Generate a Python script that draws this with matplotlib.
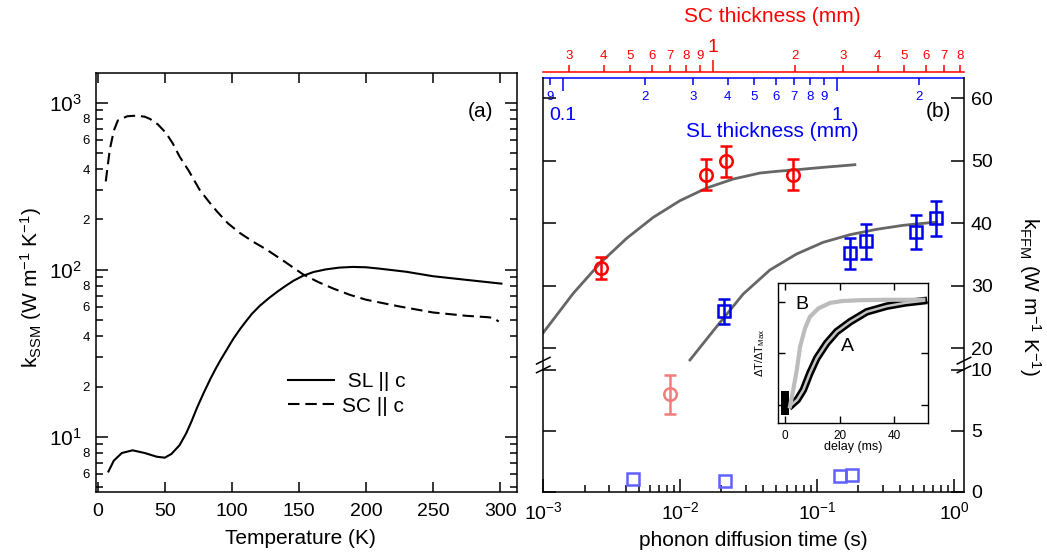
import matplotlib
matplotlib.use('Agg')
import matplotlib.pyplot as plt
from matplotlib.ticker import FixedLocator, FuncFormatter, NullFormatter, MultipleLocator, LogLocator
import numpy as np

plt.rcParams['font.family'] = ['Liberation Sans', 'DejaVu Sans']
plt.rcParams['mathtext.fontset'] = 'custom'
plt.rcParams['mathtext.rm'] = 'Liberation Sans'
plt.rcParams['mathtext.it'] = 'Liberation Sans:italic'
plt.rcParams['mathtext.bf'] = 'Liberation Sans:bold'
plt.rcParams['mathtext.default'] = 'regular'
plt.rcParams['axes.linewidth'] = 1.1

# ---------------- panel (a): k_SSM vs temperature ----------------
temp_sl = [8, 12, 18, 26, 35, 44, 50, 55, 61, 66, 70, 74, 79, 84, 88, 92, 96, 101, 106,
           110, 115, 121, 128, 134, 140, 146, 153, 161, 170, 180, 190, 200, 210, 230, 250,
           275, 301]
k_sl = [6.2, 7.2, 8.0, 8.3, 8.0, 7.6, 7.5, 7.9, 8.9, 10.5, 12.4, 14.9, 18.3, 22.2, 25.6,
        29.2, 33.0, 38.5, 44.0, 48.5, 54.5, 61.0, 68.0, 74.0, 80.0, 86.0, 92.0, 97.0, 100.5,
        103.0, 104.0, 103.5, 101.6, 97.3, 91.5, 87.0, 82.6]
temp_sc = [6, 9, 12, 15, 22, 29, 35, 39, 45, 51, 56, 61, 68, 76, 83, 89, 97, 106, 116,
           126, 140, 153, 165, 176, 188, 200, 225, 250, 275, 291, 295, 299]
k_sc = [338, 524, 680, 783, 830, 837, 825, 800, 740, 658, 570, 477, 390, 301, 255, 223,
        190, 166, 147, 132, 111, 94, 84, 77, 70.8, 66.2, 60.3, 55.5, 53, 52, 51.5, 49]

# ---------------- panel (b): k_FFM vs phonon diffusion time ----------------
t_sc = [0.00264, 0.0154, 0.0216, 0.0661]
k_sc_ffm = [32.9, 47.8, 49.9, 47.8]
err_sc = [1.75, 2.45, 2.5, 2.45]
t_sc_low = [0.00841]
k_sc_low = [7.98]
err_sc_low = [1.6]

t_sl = [0.0209, 0.173, 0.2266, 0.525, 0.735]
k_sl_ffm = [25.9, 35.2, 37.1, 38.6, 40.8]
err_sl = [1.95, 2.5, 2.75, 2.75, 2.75]
t_sl_low = [0.00454, 0.0211, 0.148, 0.181]
k_sl_low = [1.02, 0.88, 1.29, 1.37]

fit_sc_t = [0.001, 0.001656, 0.002593, 0.004062, 0.006354, 0.00995, 0.01558, 0.02438,
            0.03818, 0.05052, 0.0668, 0.1106, 0.1884]
fit_sc_k = [22.5, 28.8, 33.6, 37.6, 40.96, 43.62, 45.65, 47.09, 48.05, 48.32, 48.53, 48.96,
            49.38]
fit_sl_t = [0.01178, 0.01843, 0.02884, 0.04515, 0.07073, 0.1106, 0.1733, 0.2714, 0.4243,
            0.6646, 0.743]
fit_sl_k = [18.13, 23.46, 28.69, 32.53, 35.09, 36.96, 38.18, 39.04, 39.68, 40.1, 40.16]

# inset: normalised temperature rise vs delay
delay_b = [1.8, 3.0, 4.3, 5.5, 7.3, 9.1, 12.2, 16.5, 21, 27.4, 38, 50.6]
dT_b = [-0.016, 0.145, 0.339, 0.564, 0.742, 0.855, 0.936, 0.99, 1.008, 1.016, 1.02, 1.02]
delay_a = [2.4, 4.5, 6.7, 9.1, 11.6, 15.2, 18.9, 23.8, 29.9, 37.2, 44, 50.6]
dT_a = [0.0, 0.05, 0.145, 0.307, 0.452, 0.597, 0.71, 0.806, 0.903, 0.958, 0.99, 1.01]
block_t = [-1.6, 1.6]
block_lo = [-0.1, -0.1]
block_hi = [0.13, 0.13]

# thickness <-> diffusion time (t = a * d^2)
A_SL = 0.1386
A_SC = 0.01724

# broken y axis of panel (b)
LOW_PX, HIGH_PX = 12.2, 6.25
BRK_LO, BRK_HI, GAP = 10.39, 17.33, 0.05
YMAX = 63.3


def fwd(k):
    k = np.asarray(k, float)
    p0 = BRK_LO * LOW_PX
    lo = k * LOW_PX
    mid = p0 + (k - BRK_LO) * GAP / (BRK_HI - BRK_LO)
    hi = p0 + GAP + (k - BRK_HI) * HIGH_PX
    return np.where(k <= BRK_LO, lo, np.where(k >= BRK_HI, hi, mid))


def inv(p):
    p = np.asarray(p, float)
    p0 = BRK_LO * LOW_PX
    lo = p / LOW_PX
    mid = BRK_LO + (p - p0) * (BRK_HI - BRK_LO) / GAP
    hi = BRK_HI + (p - p0 - GAP) / HIGH_PX
    return np.where(p <= p0, lo, np.where(p >= p0 + GAP, hi, mid))


fig = plt.figure(figsize=(10.47, 5.53), dpi=100)

# ============================================================
# (a)
# ============================================================
ax1 = fig.add_axes([0.0914, 0.1108, 0.4021, 0.7566])
ax1.plot(temp_sl, k_sl, color='black', lw=1.5, label=' SL || c')
ax1.plot(temp_sc, k_sc, color='black', lw=1.5, ls=(0, (5.5, 2.8)), label='SC || c')
ax1.set_yscale('log')
ax1.set_xlim(-1.5, 312.4)
ax1.set_ylim(4.69, 1500)
ax1.xaxis.set_major_locator(MultipleLocator(50))
ax1.yaxis.set_major_locator(LogLocator(base=10))
minors = [m * 10.0 ** e for e in range(0, 4) for m in range(2, 10)]
ax1.yaxis.set_minor_locator(FixedLocator(minors))


def minor_fmt(v, pos):
    m = int(round(v / 10 ** np.floor(np.log10(v) + 1e-9)))
    return str(m) if m in (2, 4, 6, 8) else ''


ax1.yaxis.set_minor_formatter(FuncFormatter(minor_fmt))
ax1.tick_params(axis='both', which='both', direction='in', top=True, right=True, width=1.1)
ax1.tick_params(axis='x', which='major', length=7, labelsize=14, pad=8)
ax1.tick_params(axis='y', which='major', length=8.5, labelsize=15, pad=10)
ax1.tick_params(axis='y', which='minor', length=5, labelsize=9.5, pad=4)
ax1.text(0.913, 0.908, '(a)', transform=ax1.transAxes, ha='center', va='center', fontsize=15)
ax1.legend(frameon=False, fontsize=15, loc='center left', bbox_to_anchor=(0.457, 0.2335),
           borderpad=0, borderaxespad=0, handlelength=2.2, handletextpad=0.4, labelspacing=0.25)
fig.text(300.7 / 1047, 1 - 538 / 553, 'Temperature (K)', ha='center', va='center', fontsize=15)
fig.text(31 / 1047, 1 - 288 / 553, r'k$_{SSM}$ (W m$^{-1}$ K$^{-1}$)', rotation=90,
         ha='center', va='center', fontsize=15)

# ============================================================
# (b)
# ============================================================
ax2 = fig.add_axes([0.5189, 0.1108, 0.4018, 0.7486])
ax2.set_xscale('log')
ax2.set_yscale('function', functions=(fwd, inv))
ax2.set_xlim(1e-3, 1.18)
ax2.set_ylim(0, YMAX)

ax2.plot(fit_sc_t, fit_sc_k, color='#666666', lw=2)
ax2.plot(fit_sl_t, fit_sl_k, color='#666666', lw=2)
eb = dict(fmt='o', ms=9, mfc='none', mew=1.8, elinewidth=1.8, capsize=4.5, capthick=1.8)
ax2.errorbar(t_sc, k_sc_ffm, yerr=err_sc, mec='red', ecolor='red', **eb)
ax2.errorbar(t_sc_low, k_sc_low, yerr=err_sc_low, mec='#f27c7c', ecolor='#f27c7c', **eb)
eb['fmt'] = 's'
eb['ms'] = 8.5
ax2.errorbar(t_sl, k_sl_ffm, yerr=err_sl, mec='#0000ee', ecolor='#0000ee', **eb)
ax2.plot(t_sl_low, k_sl_low, 's', ms=8.5, mfc='none', mec='#6060ff', mew=1.8)

ax2.set_yticks([0, 5, 10, 20, 30, 40, 50, 60])
ax2.tick_params(axis='y', which='both', direction='in', left=True, right=True,
                labelleft=False, labelright=True, length=9.5, width=1.1, labelsize=14, pad=5)
ax2.tick_params(axis='x', which='both', direction='in', top=False, width=1.1)
ax2.tick_params(axis='x', which='major', length=9.5, labelsize=14, pad=7)
ax2.tick_params(axis='x', which='minor', length=5)
ax2.xaxis.set_minor_formatter(NullFormatter())
ax2.spines['top'].set_visible(False)

# break marks on both spines
y_br = float(fwd(BRK_LO)) / float(fwd(YMAX))
for x0 in (0, 1):
    for dy in (-0.0105, 0.0105):
        ax2.plot([x0 - 0.016, x0 + 0.016], [y_br + dy - 0.008, y_br + dy + 0.008],
                 transform=ax2.transAxes, color='black', lw=1.1, clip_on=False)


# thickness axes
def t_to_sl(t):
    return np.sqrt(np.clip(np.asarray(t, float), 1e-12, None) / A_SL)


def sl_to_t(d):
    return A_SL * np.asarray(d, float) ** 2


def t_to_sc(t):
    return np.sqrt(np.clip(np.asarray(t, float), 1e-12, None) / A_SC)


def sc_to_t(d):
    return A_SC * np.asarray(d, float) ** 2


sl = ax2.secondary_xaxis(1.0, functions=(t_to_sl, sl_to_t))
sl.set_alignment('bottom')
sl.set_ticks([0.1, 1], labels=['0.1', '1'])
sl_minor = [0.09, 0.2, 0.3, 0.4, 0.5, 0.6, 0.7, 0.8, 0.9, 2]
sl.set_ticks(sl_minor, labels=['9', '2', '3', '4', '5', '6', '7', '8', '9', '2'], minor=True)
sl.spines['bottom'].set_color('blue')
sl.spines['bottom'].set_linewidth(1.1)
sl.tick_params(which='both', direction='out', color='blue', labelcolor='blue', width=1.1)
sl.tick_params(which='major', length=9.5, labelsize=14, pad=11.5)
sl.tick_params(which='minor', length=5, labelsize=9.5, pad=4.5)

sc = ax2.secondary_xaxis(1.0138, functions=(t_to_sc, sc_to_t))
sc.set_ticks([1], labels=['1'])
sc_minor = [0.3, 0.4, 0.5, 0.6, 0.7, 0.8, 0.9, 2, 3, 4, 5, 6, 7, 8]
sc.set_ticks(sc_minor, labels=['3', '4', '5', '6', '7', '8', '9', '2', '3', '4', '5', '6', '7', '8'],
             minor=True)
sc.spines['top'].set_color('red')
sc.spines['top'].set_linewidth(1.1)
sc.tick_params(which='both', direction='out', color='red', labelcolor='red', width=1.1)
sc.tick_params(which='major', length=9, labelsize=14, pad=2.5)
sc.tick_params(which='minor', length=5, labelsize=9.5, pad=2.5)

ax2.text(0.939, 0.918, '(b)', transform=ax2.transAxes, ha='center', va='center', fontsize=15)
fig.text(772 / 1047, 1 - 17 / 553, 'SC thickness (mm)', color='red', ha='center', va='center',
         fontsize=15)
fig.text(772 / 1047, 1 - 131.7 / 553, 'SL thickness (mm)', color='blue', ha='center',
         va='center', fontsize=15)
fig.text(753.6 / 1047, 1 - 540 / 553, 'phonon diffusion time (s)', ha='center', va='center',
         fontsize=15)
fig.text(1030 / 1047, 1 - 297 / 553, r'k$_{FFM}$ (W m$^{-1}$ K$^{-1}$)', rotation=-90,
         ha='center', va='center', fontsize=15)

# inset
ax_in = fig.add_axes([0.7434, 0.2345, 0.1427, 0.2532])
ax_in.fill_between(block_t, block_lo, block_hi, color='black', lw=0)
ax_in.plot(delay_a, dT_a, color='black', lw=5.5)
ax_in.plot(delay_a, dT_a, color='#c4c4c4', lw=1.8)
ax_in.plot(delay_b, dT_b, color='#bcbcbc', lw=3)
ax_in.set_xlim(-2.45, 52.2)
ax_in.set_ylim(-0.18, 1.18)
ax_in.set_xticks([0, 20, 40])
ax_in.set_yticks([0, 0.5, 1])
ax_in.set_yticklabels([])
ax_in.tick_params(which='both', direction='in', top=True, right=True, length=5, width=1.0,
                  labelsize=8.5, pad=5)
for s in ax_in.spines.values():
    s.set_linewidth(1.0)
ax_in.set_xlabel('delay (ms)', fontsize=9, labelpad=-1)
ax_in.set_ylabel('ΔT/ΔT$_{Max}$', fontsize=8, labelpad=3)
ax_in.text(22.8, 0.565, 'A', fontsize=14, ha='center', va='center')
ax_in.text(6.3, 0.97, 'B', fontsize=14, ha='center', va='center')

fig.savefig('out.png', dpi=100)
